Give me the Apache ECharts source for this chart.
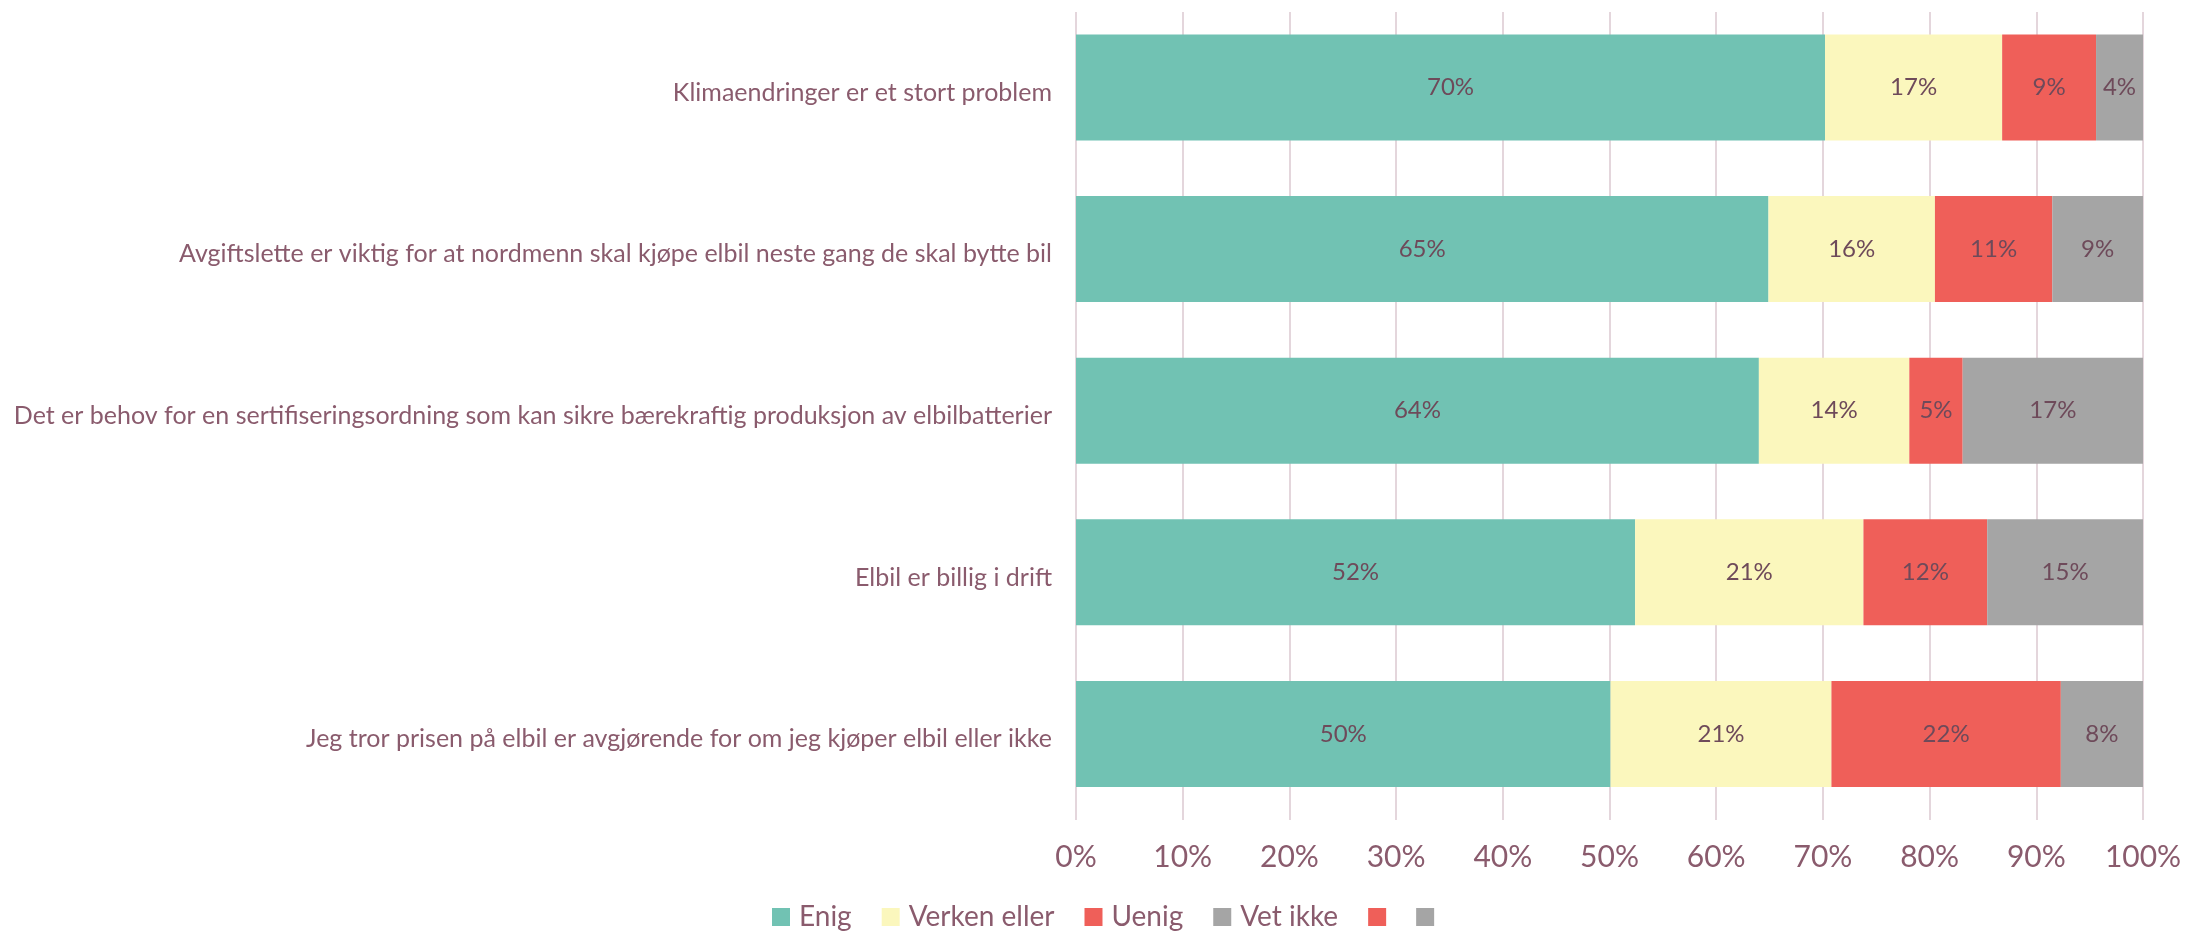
<!DOCTYPE html>
<html lang="no">
<head>
<meta charset="UTF-8">
<title>Elbil</title>
<script src="https://cdn.jsdelivr.net/npm/echarts@6/dist/echarts.min.js"></script>
<style>
    html,body{margin:0;padding:0;background:#fff;}
    #main{width:2206px;height:937px;}
</style>
</head>
<body>
<div id="main"></div>
<script>
    // kategorier (ovenfra og ned)
    var categories = [
        'Klimaendringer er et stort problem',
        'Avgiftslette er viktig for at nordmenn skal kjøpe elbil neste gang de skal bytte bil',
        'Det er behov for en sertifiseringsordning som kan sikre bærekraftig produksjon av elbilbatterier',
        'Elbil er billig i drift',
        'Jeg tror prisen på elbil er avgjørende for om jeg kjøper elbil eller ikke'
    ];
    var enig = [70.2, 64.9, 64.0, 52.4, 50.1];
    var verken = [16.6, 15.6, 14.1, 21.4, 20.7];
    var uenig = [8.8, 11.0, 5.0, 11.6, 21.5];
    var vetIkke = [4.4, 8.5, 16.9, 14.6, 7.7];
    var xTicks = ['0%','10%','20%','30%','40%','50%','60%','70%','80%','90%','100%'];

    var textColor = '#8a5b6d';
    var labelColor = '#6e4a5a';
    var font = 'Lato, "Open Sans", sans-serif';

    function barSeries(name, data, color){
        return {
            name: name,
            type: 'bar',
            stack: 'total',
            data: data,
            barWidth: 106,
            itemStyle: {color: color},
            label: {
                show: true,
                position: 'inside',
                color: labelColor,
                fontSize: 24,
                fontFamily: font,
                formatter: function (p) { return Math.round(p.value) + '%'; }
            }
        };
    }

    var chart = echarts.init(document.getElementById('main'));
    chart.setOption({
        animation: false,
        textStyle: {fontFamily: font},
        grid: {left: 1076, right: 63, top: 12, bottom: 117, containLabel: false},
        legend: {
            bottom: 1,
            left: 767,
            itemWidth: 18,
            itemHeight: 18,
            itemGap: 30,
            icon: 'rect',
            textStyle: {color: textColor, fontSize: 28, fontFamily: font, padding: [0, 0, 0, 4]},
            formatter: function (name) { return name.trim(); },
            data: ['Enig', 'Verken eller', 'Uenig', 'Vet ikke', ' ', '  ']
        },
        xAxis: {
            type: 'value',
            min: 0,
            max: 100,
            interval: 10,
            axisLine: {show: false},
            axisTick: {show: false},
            splitLine: {show: true, lineStyle: {color: '#e4d6dc', width: 2}},
            axisLabel: {
                color: textColor,
                fontSize: 30,
                fontFamily: font,
                margin: 22,
                formatter: function (v) { return xTicks[Math.round(v / 10)]; }
            }
        },
        yAxis: {
            type: 'category',
            inverse: true,
            data: categories,
            axisLine: {show: false},
            axisTick: {show: false},
            axisLabel: {color: textColor, fontSize: 25, fontFamily: font, margin: 24}
        },
        series: [
            barSeries('Enig', enig, '#71c2b3'),
            barSeries('Verken eller', verken, '#fbf7bd'),
            barSeries('Uenig', uenig, '#ef5f59'),
            barSeries('Vet ikke', vetIkke, '#a5a5a5'),
            {name: ' ', type: 'bar', stack: 'extra', data: [], itemStyle: {color: '#ef5f59'}},
            {name: '  ', type: 'bar', stack: 'extra', data: [], itemStyle: {color: '#a5a5a5'}}
        ]
    });
</script>
</body>
</html>
